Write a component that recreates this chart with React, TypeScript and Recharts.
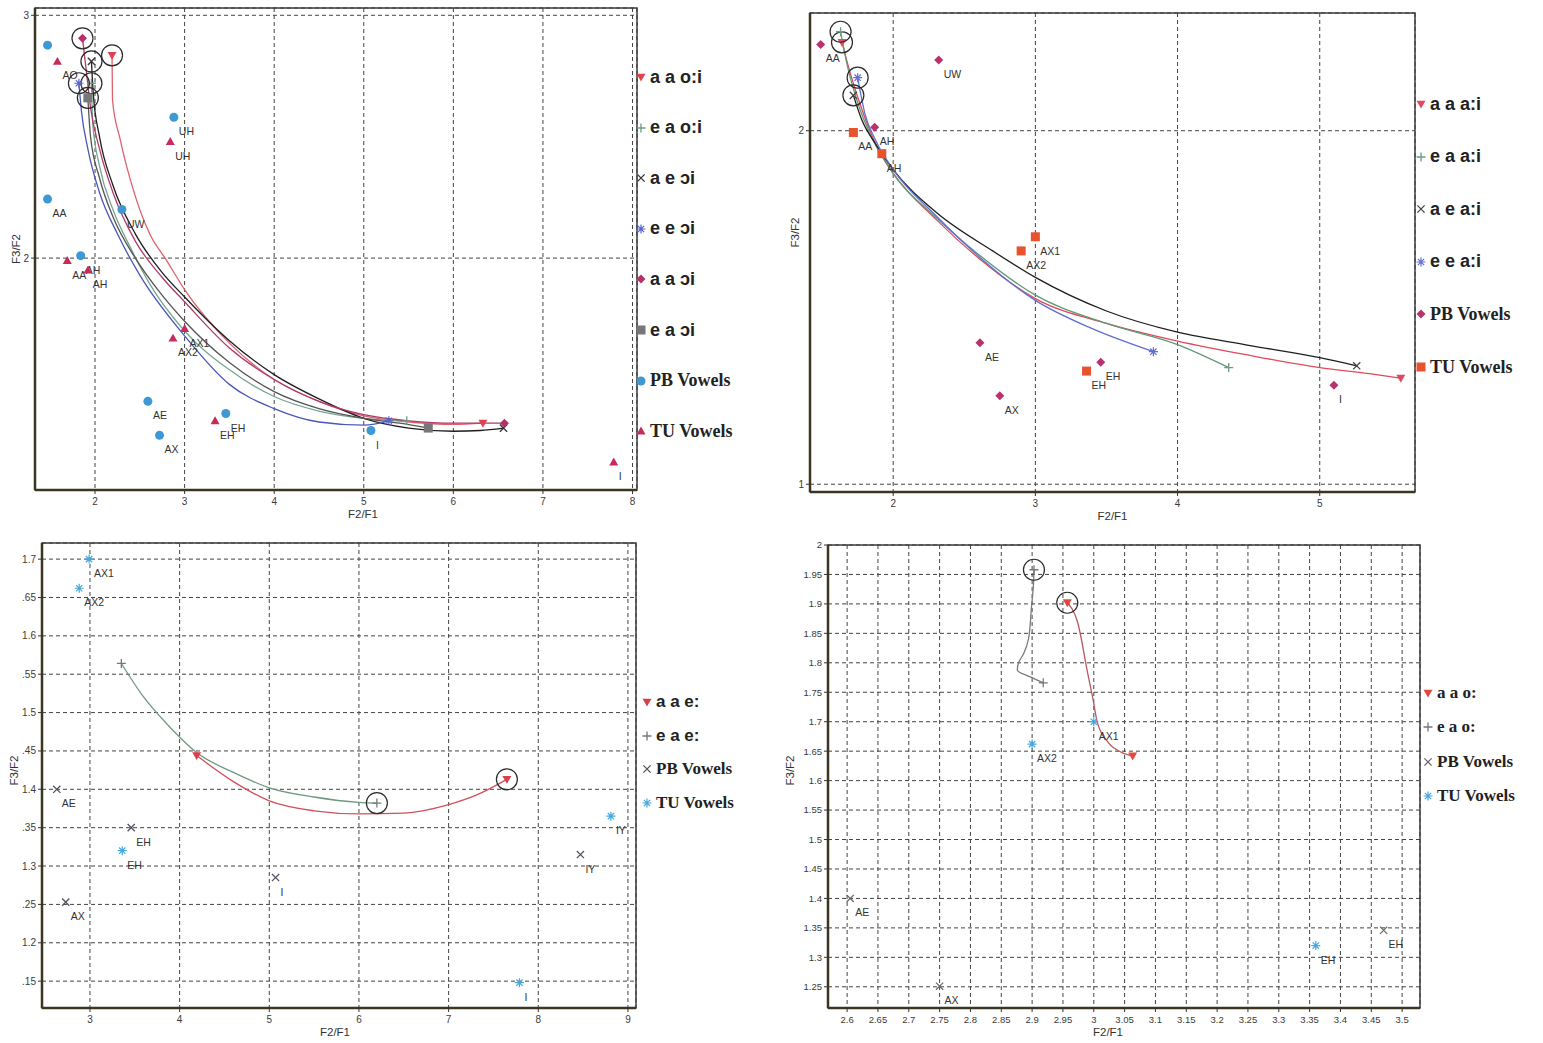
import React from "react";
import {
  CartesianGrid,
  ComposedChart,
  Line,
  ReferenceArea,
  Scatter,
  XAxis,
  YAxis,
} from "recharts";

type Pt = { x: number; y: number; label?: string };
type Kind = "triDown" | "triUp" | "plus" | "cross" | "star" | "diamond" | "square" | "circle";

// ---------- panel 1 : o:i / ɔi diphthongs ----------
const p1XTicks = [2, 3, 4, 5, 6, 7, 8];
const p1YTicks = [2, 3];
const p1PB: Pt[] = [
  { x: 1.47, y: 2.877 },
  { x: 1.47, y: 2.243, label: "AA" },
  { x: 1.84, y: 2.01, label: "AH" },
  { x: 2.88, y: 2.58, label: "UH" },
  { x: 2.3, y: 2.2, label: "UW" },
  { x: 2.59, y: 1.41, label: "AE" },
  { x: 2.72, y: 1.27, label: "AX" },
  { x: 3.46, y: 1.36, label: "EH" },
  { x: 5.08, y: 1.29, label: "I" },
];
const p1TU: Pt[] = [
  { x: 1.58, y: 2.81, label: "AO" },
  { x: 1.69, y: 1.99, label: "AA" },
  { x: 1.92, y: 1.95, label: "AH" },
  { x: 2.84, y: 2.48, label: "UH" },
  { x: 3.0, y: 1.71, label: "AX1" },
  { x: 2.87, y: 1.67, label: "AX2" },
  { x: 3.34, y: 1.33, label: "EH" },
  { x: 7.79, y: 1.16, label: "I" },
];
const p1AaOi: Pt[] = [
  { x: 2.19, y: 2.835 }, { x: 2.195, y: 2.65 }, { x: 2.28, y: 2.49 }, { x: 2.42, y: 2.29 },
  { x: 2.61, y: 2.1 }, { x: 2.8, y: 1.99 }, { x: 3.0, y: 1.87 }, { x: 3.5, y: 1.65 },
  { x: 4.0, y: 1.5 }, { x: 4.5, y: 1.41 }, { x: 5.0, y: 1.35 }, { x: 5.5, y: 1.325 },
  { x: 6.0, y: 1.315 }, { x: 6.33, y: 1.32 },
];
const p1EaOi: Pt[] = [
  { x: 1.96, y: 2.72 }, { x: 1.975, y: 2.55 }, { x: 2.05, y: 2.38 }, { x: 2.2, y: 2.2 },
  { x: 2.4, y: 2.04 }, { x: 2.6, y: 1.9 }, { x: 3.0, y: 1.7 }, { x: 3.5, y: 1.54 },
  { x: 4.0, y: 1.43 }, { x: 4.5, y: 1.37 }, { x: 5.0, y: 1.34 }, { x: 5.48, y: 1.33 },
];
const p1AeOy: Pt[] = [
  { x: 1.96, y: 2.81 }, { x: 1.98, y: 2.68 }, { x: 2.05, y: 2.5 }, { x: 2.2, y: 2.3 },
  { x: 2.45, y: 2.1 }, { x: 2.75, y: 1.94 }, { x: 3.0, y: 1.84 }, { x: 3.5, y: 1.66 },
  { x: 4.0, y: 1.52 }, { x: 4.5, y: 1.42 }, { x: 5.0, y: 1.34 }, { x: 5.5, y: 1.3 },
  { x: 6.0, y: 1.287 }, { x: 6.3, y: 1.29 }, { x: 6.56, y: 1.3 },
];
const p1EeOy: Pt[] = [
  { x: 1.82, y: 2.72 }, { x: 1.85, y: 2.6 }, { x: 1.92, y: 2.45 }, { x: 2.05, y: 2.27 },
  { x: 2.25, y: 2.1 }, { x: 2.5, y: 1.93 }, { x: 3.0, y: 1.68 }, { x: 3.5, y: 1.48 },
  { x: 4.0, y: 1.38 }, { x: 4.5, y: 1.325 }, { x: 5.0, y: 1.312 }, { x: 5.28, y: 1.33 },
];
const p1AaOy: Pt[] = [
  { x: 1.86, y: 2.905 }, { x: 1.9, y: 2.78 }, { x: 1.95, y: 2.62 }, { x: 2.05, y: 2.45 },
  { x: 2.2, y: 2.27 }, { x: 2.45, y: 2.07 }, { x: 2.75, y: 1.92 }, { x: 3.0, y: 1.82 },
  { x: 3.5, y: 1.63 }, { x: 4.0, y: 1.5 }, { x: 4.5, y: 1.41 }, { x: 5.0, y: 1.355 },
  { x: 5.5, y: 1.33 }, { x: 6.0, y: 1.32 }, { x: 6.57, y: 1.32 },
];
const p1EaOy: Pt[] = [
  { x: 1.92, y: 2.66 }, { x: 1.95, y: 2.5 }, { x: 2.05, y: 2.33 }, { x: 2.2, y: 2.17 },
  { x: 2.45, y: 2.0 }, { x: 2.7, y: 1.87 }, { x: 3.0, y: 1.74 }, { x: 3.5, y: 1.57 },
  { x: 4.0, y: 1.45 }, { x: 4.5, y: 1.38 }, { x: 5.0, y: 1.34 }, { x: 5.4, y: 1.32 },
  { x: 5.72, y: 1.3 },
];

// ---------- panel 2 : a:i diphthongs ----------
const p2XTicks = [2, 3, 4, 5];
const p2YTicks = [1, 2];
const p2PB: Pt[] = [
  { x: 1.49, y: 2.244, label: "AA" },
  { x: 2.32, y: 2.2, label: "UW" },
  { x: 1.87, y: 2.01, label: "AH" },
  { x: 2.61, y: 1.4, label: "AE" },
  { x: 2.75, y: 1.25, label: "AX" },
  { x: 3.46, y: 1.345, label: "EH" },
  { x: 5.1, y: 1.28, label: "I" },
];
const p2TU: Pt[] = [
  { x: 1.72, y: 1.995, label: "AA" },
  { x: 1.92, y: 1.935, label: "AH" },
  { x: 3.0, y: 1.7, label: "AX1" },
  { x: 2.9, y: 1.66, label: "AX2" },
  { x: 3.36, y: 1.32, label: "EH" },
];
const p2AaAi: Pt[] = [
  { x: 1.64, y: 2.25 }, { x: 1.7, y: 2.16 }, { x: 1.78, y: 2.06 }, { x: 1.88, y: 1.96 },
  { x: 2.0, y: 1.88 }, { x: 2.3, y: 1.75 }, { x: 2.6, y: 1.64 }, { x: 3.0, y: 1.525 },
  { x: 3.5, y: 1.455 }, { x: 4.0, y: 1.405 }, { x: 4.5, y: 1.365 }, { x: 5.0, y: 1.33 },
  { x: 5.36, y: 1.312 }, { x: 5.57, y: 1.3 },
];
const p2EaAi: Pt[] = [
  { x: 1.63, y: 2.28 }, { x: 1.68, y: 2.18 }, { x: 1.75, y: 2.08 }, { x: 1.85, y: 1.98 },
  { x: 1.98, y: 1.89 }, { x: 2.3, y: 1.755 }, { x: 2.6, y: 1.65 }, { x: 3.0, y: 1.535 },
  { x: 3.5, y: 1.455 }, { x: 4.0, y: 1.395 }, { x: 4.36, y: 1.33 },
];
const p2AeAi: Pt[] = [
  { x: 1.72, y: 2.1 }, { x: 1.78, y: 2.03 }, { x: 1.88, y: 1.96 }, { x: 2.0, y: 1.89 },
  { x: 2.3, y: 1.77 }, { x: 2.7, y: 1.66 }, { x: 3.0, y: 1.585 }, { x: 3.5, y: 1.49 },
  { x: 4.0, y: 1.43 }, { x: 4.5, y: 1.393 }, { x: 5.0, y: 1.358 }, { x: 5.26, y: 1.335 },
];
const p2EeAi: Pt[] = [
  { x: 1.75, y: 2.15 }, { x: 1.8, y: 2.05 }, { x: 1.88, y: 1.97 }, { x: 2.0, y: 1.89 },
  { x: 2.3, y: 1.76 }, { x: 2.6, y: 1.645 }, { x: 3.0, y: 1.52 }, { x: 3.4, y: 1.44 },
  { x: 3.83, y: 1.375 },
];

// ---------- panel 3 : e: ----------
const p3XTicks = [3, 4, 5, 6, 7, 8, 9];
const p3YTicks = [1.15, 1.2, 1.25, 1.3, 1.35, 1.4, 1.45, 1.5, 1.55, 1.6, 1.65, 1.7];
const p3YLabels = [".15", "1.2", ".25", "1.3", ".35", "1.4", ".45", "1.5", ".55", "1.6", ".65", "1.7"];
const p3PB: Pt[] = [
  { x: 2.63, y: 1.4, label: "AE" },
  { x: 3.46, y: 1.35, label: "EH" },
  { x: 2.73, y: 1.253, label: "AX" },
  { x: 5.07, y: 1.285, label: "I" },
  { x: 8.47, y: 1.315, label: "IY" },
];
const p3TU: Pt[] = [
  { x: 2.99, y: 1.7, label: "AX1" },
  { x: 2.88, y: 1.662, label: "AX2" },
  { x: 3.36, y: 1.32, label: "EH" },
  { x: 7.79, y: 1.148, label: "I" },
  { x: 8.81, y: 1.365, label: "IY" },
];
const p3AaE: Pt[] = [
  { x: 7.65, y: 1.413 }, { x: 7.3, y: 1.392 }, { x: 7.0, y: 1.38 }, { x: 6.5, y: 1.369 },
  { x: 6.0, y: 1.368 }, { x: 5.5, y: 1.372 }, { x: 5.0, y: 1.385 }, { x: 4.6, y: 1.41 },
  { x: 4.19, y: 1.444 },
];
const p3EaE: Pt[] = [
  { x: 6.2, y: 1.382 }, { x: 6.0, y: 1.383 }, { x: 5.5, y: 1.39 }, { x: 5.0, y: 1.402 },
  { x: 4.6, y: 1.422 }, { x: 4.2, y: 1.447 }, { x: 3.9, y: 1.48 }, { x: 3.6, y: 1.52 },
  { x: 3.35, y: 1.564 },
];

// ---------- panel 4 : o: ----------
const p4XTicks = [2.6, 2.65, 2.7, 2.75, 2.8, 2.85, 2.9, 2.95, 3, 3.05, 3.1, 3.15, 3.2, 3.25, 3.3, 3.35, 3.4, 3.45, 3.5];
const p4YTicks = [1.25, 1.3, 1.35, 1.4, 1.45, 1.5, 1.55, 1.6, 1.65, 1.7, 1.75, 1.8, 1.85, 1.9, 1.95, 2];
const p4PB: Pt[] = [
  { x: 2.605, y: 1.4, label: "AE" },
  { x: 2.75, y: 1.251, label: "AX" },
  { x: 3.47, y: 1.346, label: "EH" },
];
const p4TU: Pt[] = [
  { x: 2.9, y: 1.662, label: "AX2" },
  { x: 3.0, y: 1.7, label: "AX1" },
  { x: 3.36, y: 1.32, label: "EH" },
];
const p4AaO: Pt[] = [
  { x: 2.957, y: 1.902 }, { x: 2.974, y: 1.868 }, { x: 2.99, y: 1.783 }, { x: 2.998, y: 1.742 },
  { x: 3.006, y: 1.698 }, { x: 3.024, y: 1.664 }, { x: 3.045, y: 1.648 }, { x: 3.063, y: 1.642 },
];
const p4EaO: Pt[] = [
  { x: 2.903, y: 1.958 }, { x: 2.902, y: 1.93 }, { x: 2.899, y: 1.895 }, { x: 2.894, y: 1.84 },
  { x: 2.886, y: 1.815 }, { x: 2.878, y: 1.8 }, { x: 2.876, y: 1.788 }, { x: 2.897, y: 1.776 },
  { x: 2.918, y: 1.766 },
];

// ---------- drawing ----------
function Glyph({ kind, cx, cy, color, s = 4.5 }: { kind: Kind; cx: number; cy: number; color: string; s?: number }) {
  switch (kind) {
    case "triDown":
      return <polygon points={`${cx - s},${cy - s * 0.75} ${cx + s},${cy - s * 0.75} ${cx},${cy + s}`} fill={color} />;
    case "triUp":
      return <polygon points={`${cx - s},${cy + s * 0.75} ${cx + s},${cy + s * 0.75} ${cx},${cy - s}`} fill={color} />;
    case "plus":
      return <path d={`M${cx - s},${cy}H${cx + s}M${cx},${cy - s}V${cy + s}`} stroke={color} strokeWidth={1.3} />;
    case "cross": {
      const d = s * 0.8;
      return <path d={`M${cx - d},${cy - d}L${cx + d},${cy + d}M${cx + d},${cy - d}L${cx - d},${cy + d}`} stroke={color} strokeWidth={1.3} />;
    }
    case "star": {
      const d = s * 0.7;
      return (
        <path
          d={`M${cx - s},${cy}H${cx + s}M${cx},${cy - s}V${cy + s}M${cx - d},${cy - d}L${cx + d},${cy + d}M${cx + d},${cy - d}L${cx - d},${cy + d}`}
          stroke={color}
          strokeWidth={1.2}
        />
      );
    }
    case "diamond":
      return <polygon points={`${cx},${cy - s} ${cx + s},${cy} ${cx},${cy + s} ${cx - s},${cy}`} fill={color} />;
    case "square":
      return <rect x={cx - s} y={cy - s} width={2 * s} height={2 * s} fill={color} />;
    default:
      return <circle cx={cx} cy={cy} r={s} fill={color} />;
  }
}

type Series = { name: string; kind: Kind; color: string; line?: string; data: Pt[]; curve?: "monotone" | "monotoneY" };

function pointShape(kind: Kind, color: string, ring = false) {
  return (props: any) => {
    const { cx, cy, payload } = props;
    if (cx == null || cy == null) return <g />;
    return (
      <g>
        <Glyph kind={kind} cx={cx} cy={cy} color={color} />
        {ring && <circle cx={cx} cy={cy} r={10.5} fill="none" stroke="#2a2a2a" strokeWidth={1.2} />}
        {payload?.label && (
          <text x={cx + 5} y={cy + 18} fontSize={10.5} fill="#333" fontFamily="Liberation Sans, Arial, sans-serif">
            {payload.label}
          </text>
        )}
      </g>
    );
  };
}

type PanelProps = {
  left: number;
  top: number;
  width: number;
  height: number;
  margin: { top: number; right: number; bottom: number; left: number };
  yAxisWidth: number;
  xDomain: [number, number];
  yDomain: [number, number];
  xTicks: number[];
  yTicks: number[];
  yFmt?: (v: number) => string;
  trajs: Series[];
  vowels: Series[];
  xLabelDx: number;
  yLabelDx: number;
  yLabelDy: number;
  tickSize: number;
};

function Panel(p: PanelProps) {
  const tick = { fill: "#3a3a3a", fontSize: p.tickSize, fontFamily: "Liberation Sans, Arial, sans-serif" };
  return (
    <div style={{ position: "absolute", left: p.left, top: p.top }}>
      <ComposedChart width={p.width} height={p.height} margin={p.margin}>
        <CartesianGrid stroke="#444" strokeDasharray="4 3" strokeWidth={1} />
        <XAxis
          type="number"
          dataKey="x"
          domain={p.xDomain}
          ticks={p.xTicks}
          allowDataOverflow
          interval={0}
          height={30}
          tick={tick}
          tickSize={4}
          tickMargin={4}
          tickLine={{ stroke: "#333" }}
          axisLine={{ stroke: "#3b3522", strokeWidth: 2.5 }}
          label={{ value: "F2/F1", position: "insideBottom", offset: 2, dx: p.xLabelDx, fontSize: 11.5, fill: "#333", fontFamily: "Liberation Sans, Arial, sans-serif" }}
        />
        <YAxis
          type="number"
          dataKey="y"
          domain={p.yDomain}
          ticks={p.yTicks}
          allowDataOverflow
          interval={0}
          width={p.yAxisWidth}
          tick={tick}
          tickFormatter={p.yFmt}
          tickSize={4}
          tickMargin={2}
          tickLine={{ stroke: "#333" }}
          axisLine={{ stroke: "#3b3522", strokeWidth: 2.5 }}
          label={{ value: "F3/F2", position: "center", angle: -90, dx: p.yLabelDx, dy: p.yLabelDy, fontSize: 11.5, fill: "#333", fontFamily: "Liberation Sans, Arial, sans-serif" }}
        />
        <ReferenceArea
          x1={p.xDomain[0]}
          x2={p.xDomain[1]}
          y1={p.yDomain[0]}
          y2={p.yDomain[1]}
          fill="none"
          stroke="#3b3b3b"
          strokeWidth={1.5}
          ifOverflow="visible"
        />
        {p.trajs.map((t) => (
          <Line
            key={`l-${t.name}`}
            data={t.data}
            dataKey="y"
            type={t.curve ?? "monotone"}
            stroke={t.line ?? t.color}
            strokeWidth={1.3}
            dot={false}
            activeDot={false}
            isAnimationActive={false}
          />
        ))}
        {p.vowels.map((v) => (
          <Scatter key={`v-${v.name}`} data={v.data} dataKey="y" shape={pointShape(v.kind, v.color)} isAnimationActive={false} />
        ))}
        {p.trajs.map((t) => (
          <Scatter
            key={`e-${t.name}`}
            data={[t.data[t.data.length - 1]]}
            dataKey="y"
            shape={pointShape(t.kind, t.color)}
            isAnimationActive={false}
          />
        ))}
        {p.trajs.map((t) => (
          <Scatter key={`s-${t.name}`} data={[t.data[0]]} dataKey="y" shape={pointShape(t.kind, t.color, true)} isAnimationActive={false} />
        ))}
      </ComposedChart>
    </div>
  );
}

const SANS = "Liberation Sans, Arial, sans-serif";
const SERIF = "Liberation Serif, Times New Roman, serif";

function SideLegend({
  items,
  left,
  top,
  gap,
  fontSize,
}: {
  items: { series: Series; serif: boolean }[];
  left: number;
  top: number;
  gap: number;
  fontSize: number;
}) {
  return (
    <>
      {items.map(({ series, serif }, i) => (
        <div
          key={series.name}
          style={{
            position: "absolute",
            left,
            top: top + i * gap - 12,
            height: 24,
            display: "flex",
            alignItems: "center",
            whiteSpace: "nowrap",
            fontFamily: serif ? SERIF : SANS,
            fontWeight: 700,
            fontSize,
            color: "#222",
          }}
        >
          <svg width={12} height={12} style={{ marginRight: 3 }}>
            <Glyph kind={series.kind} cx={6} cy={6} color={series.color} s={4.5} />
          </svg>
          <span>{series.name}</span>
        </div>
      ))}
    </>
  );
}

// series tables
const p1Trajs: Series[] = [
  { name: "a a o:i", kind: "triDown", color: "#e2424f", line: "#e0616d", data: p1AaOi },
  { name: "e a o:i", kind: "plus", color: "#6e9c86", line: "#78a68f", data: p1EaOi },
  { name: "a e ɔi", kind: "cross", color: "#333333", line: "#1e1e1e", data: p1AeOy },
  { name: "e e ɔi", kind: "star", color: "#5564cc", line: "#4a57b8", data: p1EeOy },
  { name: "a a ɔi", kind: "diamond", color: "#b5306b", line: "#b03a6c", data: p1AaOy },
  { name: "e a ɔi", kind: "square", color: "#777777", line: "#555555", data: p1EaOy },
];
const p1Vowels: Series[] = [
  { name: "PB Vowels", kind: "circle", color: "#3e98d4", data: p1PB },
  { name: "TU Vowels", kind: "triUp", color: "#c92a5c", data: p1TU },
];
const p2Trajs: Series[] = [
  { name: "a a a:i", kind: "triDown", color: "#e04a5e", line: "#e04a5a", data: p2AaAi },
  { name: "e a a:i", kind: "plus", color: "#6a9c80", line: "#5f9a78", data: p2EaAi },
  { name: "a e a:i", kind: "cross", color: "#444444", line: "#1e1e1e", data: p2AeAi },
  { name: "e e a:i", kind: "star", color: "#5f70d0", line: "#6070d0", data: p2EeAi },
];
const p2Vowels: Series[] = [
  { name: "PB Vowels", kind: "diamond", color: "#b8336d", data: p2PB },
  { name: "TU Vowels", kind: "square", color: "#e8532e", data: p2TU },
];
const p3Trajs: Series[] = [
  { name: "a a e:", kind: "triDown", color: "#d8404c", line: "#d2505c", data: p3AaE },
  { name: "e a e:", kind: "plus", color: "#777777", line: "#6d9a80", data: p3EaE },
];
const p3Vowels: Series[] = [
  { name: "PB Vowels", kind: "cross", color: "#5a5060", data: p3PB },
  { name: "TU Vowels", kind: "star", color: "#45a8df", data: p3TU },
];
const p4Trajs: Series[] = [
  { name: "a a o:", kind: "triDown", color: "#e04a3e", line: "#b85860", data: p4AaO },
  { name: "e a o:", kind: "plus", color: "#777777", line: "#7a7a7a", data: p4EaO, curve: "monotoneY" },
];
const p4Vowels: Series[] = [
  { name: "PB Vowels", kind: "cross", color: "#6a6a6a", data: p4PB },
  { name: "TU Vowels", kind: "star", color: "#45a8df", data: p4TU },
];

const fmt4X = (v: number) => String(v);

export default function App() {
  return (
    <div style={{ position: "absolute", left: 0, top: 0, width: 1543, height: 1043, background: "#fff" }}>
      <Panel
        left={0}
        top={0}
        width={640}
        height={530}
        margin={{ top: 8, right: 3, bottom: 10, left: 10 }}
        yAxisWidth={25}
        xDomain={[1.33, 8.05]}
        yDomain={[1.045, 3.03]}
        xTicks={p1XTicks}
        yTicks={p1YTicks}
        trajs={p1Trajs}
        vowels={p1Vowels}
        xLabelDx={27}
        yLabelDx={-7}
        yLabelDy={0}
        tickSize={10}
      />
      <SideLegend
        left={635}
        top={77}
        gap={50.6}
        fontSize={18}
        items={[...p1Trajs.map((s) => ({ series: s, serif: false })), ...p1Vowels.map((s) => ({ series: s, serif: true }))]}
      />

      <Panel
        left={780}
        top={0}
        width={640}
        height={530}
        margin={{ top: 13, right: 5, bottom: 8, left: 10 }}
        yAxisWidth={20}
        xDomain={[1.415, 5.67]}
        yDomain={[0.978, 2.333]}
        xTicks={p2XTicks}
        yTicks={p2YTicks}
        trajs={p2Trajs}
        vowels={p2Vowels}
        xLabelDx={0}
        yLabelDx={-5}
        yLabelDy={-20}
        tickSize={10}
      />
      <SideLegend
        left={1415}
        top={104}
        gap={52.6}
        fontSize={18}
        items={[...p2Trajs.map((s) => ({ series: s, serif: false })), ...p2Vowels.map((s) => ({ series: s, serif: true }))]}
      />

      <Panel
        left={0}
        top={535}
        width={640}
        height={505}
        margin={{ top: 8, right: 4, bottom: 2, left: 12 }}
        yAxisWidth={30}
        xDomain={[2.465, 9.09]}
        yDomain={[1.115, 1.721]}
        xTicks={p3XTicks}
        yTicks={p3YTicks}
        yFmt={(v) => p3YLabels[p3YTicks.indexOf(v)] ?? String(v)}
        trajs={p3Trajs}
        vowels={p3Vowels}
        xLabelDx={-4}
        yLabelDx={-13}
        yLabelDy={-5}
        tickSize={10}
      />
      <SideLegend
        left={641}
        top={702}
        gap={33.7}
        fontSize={17}
        items={[...p3Trajs.map((s) => ({ series: s, serif: false })), ...p3Vowels.map((s) => ({ series: s, serif: true }))]}
      />

      <Panel
        left={780}
        top={535}
        width={645}
        height={505}
        margin={{ top: 10, right: 5, bottom: 2, left: 12 }}
        yAxisWidth={36}
        xDomain={[2.569, 3.529]}
        yDomain={[1.214, 2.0]}
        xTicks={p4XTicks}
        yTicks={p4YTicks}
        yFmt={fmt4X}
        trajs={p4Trajs}
        vowels={p4Vowels}
        xLabelDx={-16}
        yLabelDx={-20}
        yLabelDy={-6}
        tickSize={9.5}
      />
      <SideLegend
        left={1422}
        top={693}
        gap={34.3}
        fontSize={17}
        items={[...p4Trajs.map((s) => ({ series: s, serif: true })), ...p4Vowels.map((s) => ({ series: s, serif: true }))]}
      />
    </div>
  );
}
